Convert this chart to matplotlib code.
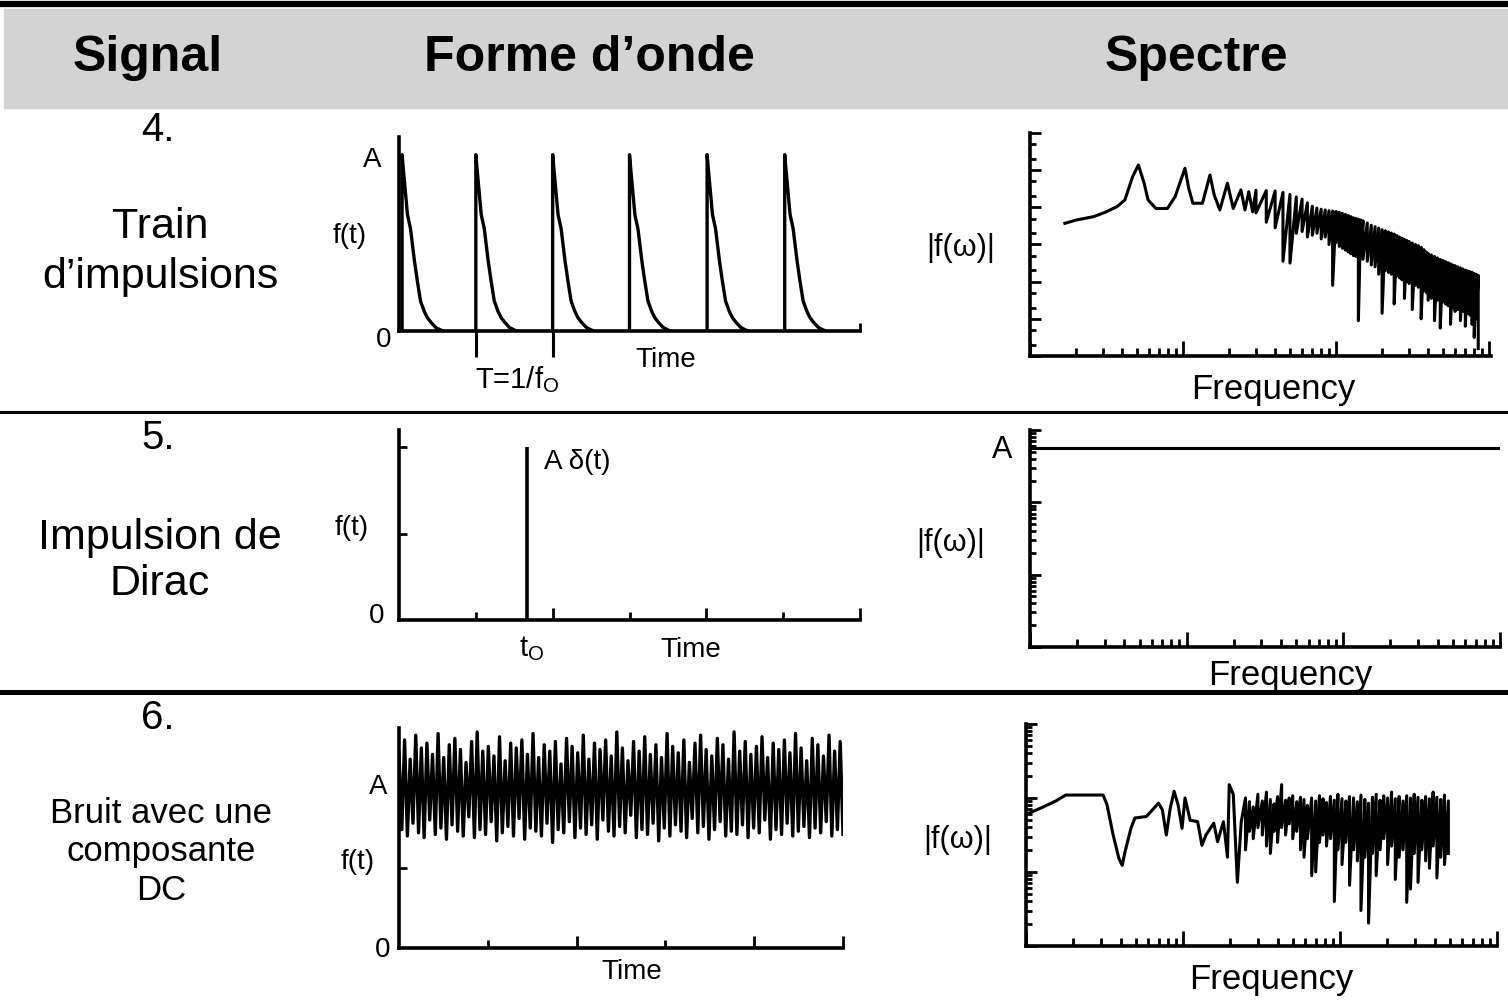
import matplotlib
matplotlib.use('Agg')
import matplotlib.pyplot as plt
import numpy as np
from matplotlib.lines import Line2D
from matplotlib.patches import Rectangle
from matplotlib.ticker import FixedLocator, LogLocator, NullFormatter

plt.rcParams['font.family'] = ['Liberation Sans', 'DejaVu Sans']
plt.rcParams['mathtext.fontset'] = 'custom'
plt.rcParams['mathtext.rm'] = 'Liberation Sans'
plt.rcParams['mathtext.it'] = 'Liberation Sans:italic'

# --- donnees ---------------------------------------------------------------
headers = ['Signal', 'Forme d’onde', 'Spectre']
row_nums = ['4.', '5.', '6.']
row_names = ['Train\nd’impulsions', 'Impulsion de\nDirac', 'Bruit avec une\ncomposante\nDC']

# 4. train d'impulsions (temps en periodes, amplitude relative a A)
pulse_starts = [0.04, 1.0, 2.0, 3.0, 4.01, 5.02]
decay_t = [0.0, 0.0, 0.02, 0.07, 0.11, 0.16, 0.20, 0.24, 0.29, 0.33, 0.38, 0.44, 0.53]
decay_v = [0.0, 1.0, 0.90, 0.66, 0.58, 0.40, 0.28, 0.17, 0.11, 0.075, 0.047, 0.019, 0.0]

# spectre du train : partie basse frequence (log10 de |f(w)|)
spec1_f = [1.69, 2.01, 2.61, 3.11, 3.71, 4.17, 4.69, 5.11, 5.57, 5.91, 6.64, 7.91, 8.89,
           10.3, 10.9, 11.6, 13.4, 15.0, 16.0, 17.4, 19.5, 21.3, 23.9, 25.4, 26.9, 28.5]
spec1_lvl = [3.57, 3.66, 3.75, 3.87, 4.02, 4.20, 4.83, 5.14, 4.65, 4.20, 3.97, 3.97, 4.29,
             5.05, 4.51, 4.11, 4.11, 4.87, 4.33, 3.93, 4.65, 3.97, 4.47, 3.93, 4.42, 3.88]
# harmoniques : sommet et creux a chaque frequence
spec1_hf = [30, 35, 40, 45, 50, 55, 60, 65, 70, 75, 80, 85, 90, 95, 100,
            105, 110, 115, 120, 125, 130, 135, 140, 145, 150, 160, 170, 180, 190, 200,
            210, 220, 230, 240, 250, 260, 270, 280, 290, 300, 315, 330, 345, 360, 375, 390, 400,
            420, 440, 460, 480, 500, 520, 540, 560, 580, 600, 625, 650, 675, 700, 725, 750,
            775, 800, 825, 850]
spec1_top = [4.46, 4.45, 4.44, 4.40, 4.35, 4.28, 4.22, 4.12, 4.03, 3.98, 3.95, 3.93, 3.91, 3.90, 3.89,
             3.87, 3.84, 3.81, 3.78, 3.75, 3.72, 3.70, 3.68, 3.66, 3.64, 3.58, 3.52, 3.48, 3.44, 3.40,
             3.37, 3.34, 3.31, 3.28, 3.24, 3.20, 3.17, 3.14, 3.11, 3.08, 3.04, 3.00, 2.97, 2.92, 2.86,
             2.80, 2.76,
             2.72, 2.68, 2.64, 2.60, 2.57, 2.54, 2.51, 2.48, 2.45, 2.43, 2.40, 2.37, 2.34, 2.31, 2.29,
             2.27, 2.25, 2.22, 2.20, 2.17]
spec1_bot = [3.85, 3.60, 3.45, 2.55, 2.50, 3.30, 3.35, 3.20, 3.25, 3.30, 3.15, 3.20, 3.00, 1.90, 3.05,
             2.95, 2.90, 2.85, 2.80, 2.75, 2.70, 2.68, 0.95, 2.62, 2.60, 2.55, 2.45, 2.40, 2.20, 1.15,
             2.30, 2.25, 2.20, 1.40, 2.15, 2.10, 2.05, 1.55, 2.00, 1.95, 1.25, 1.90, 1.85, 1.00, 1.75,
             1.70, 1.50,
             1.55, 0.95, 1.50, 0.75, 1.45, 1.40, 1.35, 0.85, 1.30, 1.20, 1.25, 0.95, 1.20, 0.80, 1.15,
             1.10, 0.85, 0.50, 1.00, 0.20]

# 5. impulsion de Dirac
impulse_t = 1.66
impulse_amp = 1.0
spec2_f = [1, 1000]
spec2_v = [560, 560]

# 6. bruit avec composante continue
noise_v = [
    1.22, 0.74, 1.30, 0.70, 1.18, 0.78, 1.33, 0.72, 1.25, 0.69, 1.28, 0.80, 1.21, 0.71, 1.34, 0.75,
    1.19, 0.68, 1.27, 0.77, 1.31, 0.73, 1.24, 0.70, 1.16, 0.82, 1.29, 0.69, 1.35, 0.74, 1.23, 0.71,
    1.26, 0.79, 1.20, 0.67, 1.32, 0.72, 1.17, 0.76, 1.28, 0.70, 1.25, 0.81, 1.30, 0.68, 1.21, 0.75,
    1.34, 0.73, 1.19, 0.70, 1.27, 0.78, 1.23, 0.66, 1.29, 0.74, 1.15, 0.72, 1.31, 0.79, 1.26, 0.69,
    1.22, 0.75, 1.33, 0.71, 1.18, 0.77, 1.28, 0.68, 1.24, 0.80, 1.30, 0.73, 1.20, 0.70, 1.35, 0.76,
    1.25, 0.72, 1.17, 0.83, 1.29, 0.69, 1.23, 0.74, 1.32, 0.71, 1.21, 0.78, 1.27, 0.67, 1.19, 0.75,
    1.34, 0.70, 1.26, 0.77, 1.22, 0.73, 1.30, 0.69, 1.16, 0.81, 1.28, 0.72, 1.33, 0.76, 1.24, 0.68,
    1.20, 0.74, 1.31, 0.79, 1.27, 0.70, 1.18, 0.73, 1.35, 0.71, 1.23, 0.77, 1.29, 0.69, 1.21, 0.75,
    1.26, 0.72, 1.32, 0.80, 1.19, 0.68, 1.28, 0.74, 1.24, 0.71, 1.30, 0.78, 1.22, 0.70, 1.34, 0.73,
    1.25, 0.76, 1.17, 0.69, 1.31, 0.75, 1.27, 0.72, 1.20, 0.79, 1.33, 0.70, 1.23, 0.74, 1.29, 0.71,
]
spec3_f = [1.03, 1.23, 1.55, 1.79, 3.10, 3.28, 3.59, 3.91, 4.10, 4.27, 4.66, 4.94,
           5.85, 6.39, 6.98, 7.39, 7.83, 8.29, 8.78, 9.30, 9.86,
           10.3, 11.1, 12.4, 13.2, 14.0, 15.7, 16.6, 18.1, 19.2, 19.7, 20.9, 22.2, 23.5]
spec3_lvl = [1.79, 1.86, 1.96, 2.04, 2.04, 1.91, 1.50, 1.18, 1.09, 1.27, 1.59, 1.73,
             1.75, 1.84, 1.93, 1.84, 1.50, 1.86, 2.09, 1.91, 1.59,
             2.00, 1.70, 1.68, 1.36, 1.50, 1.66, 1.41, 1.68, 1.20, 2.18, 2.05, 0.86, 1.68]
spec3_hf = [25, 26.5, 28, 30, 32, 34, 36, 38, 40, 42.5, 45, 47.5, 50, 53, 56, 59, 62, 66, 70, 74,
            78, 82, 87, 92, 97, 103, 109, 115, 122, 129, 136, 144, 152, 161, 170, 180, 190, 201,
            213, 225, 238, 252, 266, 281, 297, 314, 332, 351, 371, 392, 414, 438, 463, 490]
spec3_top = [2.00, 1.95, 1.88, 2.05, 1.96, 2.08, 1.98, 1.92, 2.02, 2.18, 1.97, 2.00, 2.03, 1.95,
             2.01, 1.98, 1.90, 2.00, 1.96, 2.03, 1.99, 1.94, 2.02, 1.97, 2.05, 1.99, 1.96, 2.02,
             2.00, 1.95, 2.04, 1.98, 1.93, 2.01, 2.05, 1.97, 2.03, 2.00, 2.08, 1.99, 2.02, 1.96,
             2.03, 2.00, 2.05, 2.01, 1.97, 2.02, 1.99, 2.08, 2.01, 1.98, 2.04, 1.96]
spec3_bot = [1.30, 1.55, 1.45, 1.60, 1.50, 1.35, 1.25, 1.55, 1.40, 1.60, 1.50, 1.65, 1.45, 1.55,
             1.30, 1.20, 1.45, 0.95, 1.00, 1.40, 1.50, 1.35, 1.45, 0.60, 1.30, 1.10, 1.40, 0.82,
             1.30, 1.15, 0.48, 1.20, 0.31, 1.25, 0.95, 1.30, 1.45, 1.10, 1.35, 0.90, 1.20, 1.30,
             0.59, 0.77, 1.25, 0.86, 1.30, 1.15, 1.05, 1.35, 0.92, 1.20, 1.10, 1.25]

# --- figure ----------------------------------------------------------------
W, H = 1508, 1001
fig = plt.figure(figsize=(W / 100, H / 100), dpi=100)


def box(left, top, right, bottom):
    return fig.add_axes([left / W, 1 - bottom / H, (right - left) / W, (bottom - top) / H])


def label(x, y, s, size, **kw):
    fig.text(x / W, 1 - y / H, s, fontsize=size, ha=kw.pop('ha', 'center'), va='center', **kw)


def style(ax):
    for s in ['top', 'right']:
        ax.spines[s].set_visible(False)
    for s in ['left', 'bottom']:
        ax.spines[s].set_linewidth(2.6)
    ax.set_facecolor('none')
    ax.tick_params(which='both', labelleft=False, labelbottom=False, width=2, direction='in')


def zigzag(f_lo, lvl_lo, f_hi, top, bot):
    x = np.concatenate([f_lo, np.repeat(f_hi, 2)])
    y = np.concatenate([lvl_lo, np.column_stack([top, bot]).ravel()])
    return x, 10 ** y


# bandeau d'en-tete
fig.patches.append(Rectangle((4 / W, 1 - 108 / H), 1, 99 / H, transform=fig.transFigure,
                             color='#d3d3d3', zorder=0))
fig.add_artist(Line2D([0, 1], [1 - 4 / H, 1 - 4 / H], color='k', lw=4.5))
fig.add_artist(Line2D([0, 1], [1 - 412 / H, 1 - 412 / H], color='k', lw=2.2))
fig.add_artist(Line2D([0, 1], [1 - 692 / H, 1 - 692 / H], color='k', lw=3.6))

for x, s in zip([148, 589, 1196], headers):
    label(x, 58, s, 36, fontweight='bold')

for y, s in zip([130, 438, 718], row_nums):
    label(158, y, s, 29)
label(160, 252, row_names[0], 31, linespacing=1.32)
label(160, 561, row_names[1], 31, linespacing=1.22)
label(161, 852, row_names[2], 25, linespacing=1.22)

# ligne 4 : forme d'onde
ax1 = box(399, 137, 860, 331)
style(ax1)
for t0 in pulse_starts:
    ax1.plot(t0 + np.array(decay_t), decay_v, color='k', lw=2.4)
ax1.set_xlim(0, 6)
ax1.set_ylim(0, 1.10)
ax1.set_yticks([])
ax1.xaxis.set_major_locator(FixedLocator([1, 2]))
ax1.xaxis.set_minor_locator(FixedLocator([6]))
ax1.tick_params(axis='x', which='major', direction='out', length=19, width=2.2)
ax1.tick_params(axis='x', which='minor', direction='in', length=6)
label(372, 160, 'A', 20)
label(384, 340, '0', 20)
label(350, 236, 'f(t)', 20)
label(517, 380, r'T=1/f$_\mathregular{O}$', 21)
label(666, 360, 'Time', 20)

# ligne 4 : spectre
s1 = box(1030, 133, 1491, 356)
style(s1)
x, y = zigzag(spec1_f, spec1_lvl, spec1_hf, spec1_top, spec1_bot)
s1.plot(x, y, color='k', lw=2.2)
s1.set_xscale('log')
s1.set_yscale('log')
s1.set_xlim(1, 1030)
s1.set_ylim(1, 1e6)
s1.yaxis.set_minor_locator(LogLocator(base=10, subs=(2.0, 5.0)))
s1.tick_params(axis='x', which='major', length=11)
s1.tick_params(axis='x', which='minor', length=6)
s1.tick_params(axis='y', which='major', length=8)
s1.tick_params(axis='y', which='minor', length=4)
s1.xaxis.set_minor_formatter(NullFormatter())
s1.yaxis.set_minor_formatter(NullFormatter())
label(961, 248, '|f(ω)|', 22)
label(1273, 390, 'Frequency', 25)

# ligne 5 : forme d'onde
ax2 = box(399, 430, 860, 620)
style(ax2)
ax2.vlines(impulse_t, 0, impulse_amp, color='k', lw=2.6)
ax2.set_xlim(0, 6)
ax2.set_ylim(0, 1.10)
ax2.set_yticks([0.5, 1.0])
ax2.xaxis.set_major_locator(FixedLocator([2, 4, 6]))
ax2.xaxis.set_minor_locator(FixedLocator([1, 3, 5]))
ax2.tick_params(axis='x', which='major', length=9)
ax2.tick_params(axis='x', which='minor', length=6)
ax2.tick_params(axis='y', length=6)
label(352, 528, 'f(t)', 20)
label(377, 616, '0', 20)
label(544, 462, 'A δ(t)', 20, ha='left')
label(532, 649, r't$_\mathregular{O}$', 21)
label(691, 650, 'Time', 20)

# ligne 5 : spectre
s2 = box(1030, 430, 1500, 647)
style(s2)
s2.plot(spec2_f, spec2_v, color='k', lw=2.2)
s2.set_xscale('log')
s2.set_yscale('log')
s2.set_xlim(1, 1000)
s2.set_ylim(1, 1000)
s2.tick_params(axis='x', which='major', length=11)
s2.tick_params(axis='x', which='minor', length=6)
s2.tick_params(axis='y', which='major', length=8)
s2.tick_params(axis='y', which='minor', length=4)
s2.xaxis.set_minor_formatter(NullFormatter())
s2.yaxis.set_minor_formatter(NullFormatter())
label(1002, 450, 'A', 22)
label(951, 543, '|f(ω)|', 22)
label(1290, 676, 'Frequency', 25)

# ligne 6 : forme d'onde
ax3 = box(399, 728, 843, 948)
style(ax3)
ax3.plot(np.linspace(0, 5, len(noise_v)), noise_v, color='k', lw=2.4)
ax3.set_xlim(0, 5)
ax3.set_ylim(0, 1.375)
ax3.set_yticks([0.5])
ax3.xaxis.set_major_locator(FixedLocator([2, 4, 5]))
ax3.xaxis.set_minor_locator(FixedLocator([1, 3]))
ax3.tick_params(axis='x', which='major', length=9)
ax3.tick_params(axis='x', which='minor', length=6)
ax3.tick_params(axis='y', length=6)
label(378, 787, 'A', 20)
label(358, 862, 'f(t)', 20)
label(383, 950, '0', 20)
label(632, 972, 'Time', 20)

# ligne 6 : spectre
s3 = box(1026, 724, 1497, 946)
style(s3)
x, y = zigzag(spec3_f, spec3_lvl, spec3_hf, spec3_top, spec3_bot)
s3.plot(x, y, color='k', lw=2.2)
s3.set_xscale('log')
s3.set_yscale('log')
s3.set_xlim(1, 1000)
s3.set_ylim(1, 1000)
s3.tick_params(axis='x', which='major', length=11)
s3.tick_params(axis='x', which='minor', length=6)
s3.tick_params(axis='y', which='major', length=8)
s3.tick_params(axis='y', which='minor', length=4)
s3.xaxis.set_minor_formatter(NullFormatter())
s3.yaxis.set_minor_formatter(NullFormatter())
label(958, 840, '|f(ω)|', 22)
label(1271, 980, 'Frequency', 25)

fig.savefig('out.png', dpi=100)
